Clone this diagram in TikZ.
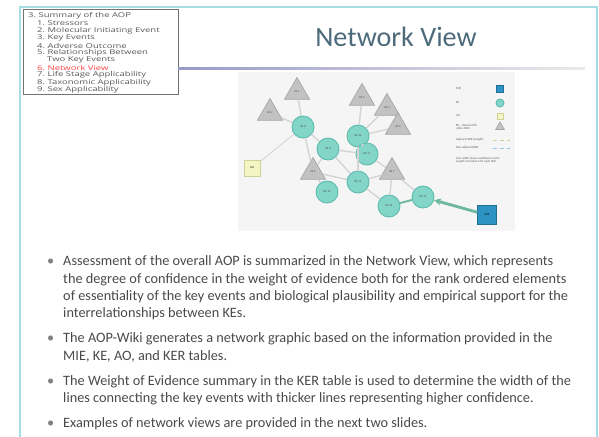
\documentclass[tikz,border=0pt]{standalone}
\usepackage{fontspec}
\setmainfont{Carlito}
\newfontfamily\tocfont[FakeStretch=1.42]{Open Sans}
\usetikzlibrary{shapes.geometric,arrows.meta}

\definecolor{frameblue}{HTML}{A6DCE4}
\definecolor{titleslate}{HTML}{4D6A7A}
\definecolor{bodygray}{HTML}{4A4A4A}
\definecolor{kefill}{HTML}{82D5C7}
\definecolor{keedge}{HTML}{5FBDAE}
\definecolor{trifill}{HTML}{C2C2C2}
\definecolor{triedge}{HTML}{A6A6A6}
\definecolor{aofill}{HTML}{F3F5C4}
\definecolor{aoedge}{HTML}{CFD294}
\definecolor{miefill}{HTML}{2C93C3}
\definecolor{mieedge}{HTML}{1F6E98}
\definecolor{kerline}{HTML}{D4D4D4}
\definecolor{kergreen}{HTML}{6DB79E}

\tikzset{
  ke/.style={circle,draw=keedge,fill=kefill,line width=0.8pt,minimum size=0.66cm,inner sep=0pt,font=\fontsize{2.5}{3}\selectfont,text=black!70},
  ketri/.style={regular polygon,regular polygon sides=3,draw=triedge,fill=trifill,line width=0.6pt,minimum size=0.87cm,inner sep=0pt,font=\fontsize{2.5}{3}\selectfont,text=black!70},
  ker/.style={kerline,line width=1.2pt},
  kerwide/.style={kergreen,line width=2.4pt,-{Stealth[length=6pt,width=6pt]}},
  toc/.style={anchor=west,inner sep=0pt,font=\tocfont\fontsize{5.7}{7}\selectfont,text=black!65},
  para/.style={anchor=west,inner sep=0pt,font=\fontsize{12.2}{14}\selectfont,text=bodygray},
  legtxt/.style={anchor=west,font=\fontsize{2.6}{3}\selectfont,text=black!65}
}

\begin{document}
\begin{tikzpicture}[x=0.03cm,y=-0.03cm]
\useasboundingbox (0,0) rectangle (599,436);
\fill[white] (0,0) rectangle (599,436);
% slide frame
\draw[frameblue,line width=1.6pt] (20,440) -- (20,7) -- (597,7) -- (597,440);

% outline box
\draw[black!55,line width=0.5pt] (23,9) rectangle (178,94);
\node[toc] (toc0) at (28,16) {3.\ Summary of the AOP};
\node[toc] (toc1) at (37,23.4) {1.\ Stressors};
\node[toc] (toc2) at (37,30.8) {2.\ Molecular Initiating Event};
\node[toc] (toc3) at (37,38.2) {3.\ Key Events};
\node[toc] (toc4) at (37,45.6) {4.\ Adverse Outcome};
\node[toc] (toc5) at (37,53) {5.\ Relationships Between};
\node[toc] (toc5b) at (47,60.4) {Two Key Events};
\node[toc,text=red!75] (toc6) at (37,67.8) {6.\ Network View};
\node[toc] (toc7) at (37,75.2) {7.\ Life Stage Applicability};
\node[toc] (toc8) at (37,82.6) {8.\ Taxonomic Applicability};
\node[toc] (toc9) at (37,90) {9.\ Sex Applicability};

% title and rule
\node[font=\fontsize{24}{28}\selectfont,text=titleslate] (title) at (396,37) {Network View};
\shade[left color=black!55!blue!40,right color=black!8] (178,67) rectangle (585,69.5);

% network panel
\fill[black!4] (238,72) rectangle (515,231);

\node[ketri] (tri1) at (297,92) {KE 1};
\node[ketri] (tri2) at (270,113) {KE 2};
\node[ketri] (tri3) at (362,98) {KE 3};
\node[ketri] (tri4) at (387,108) {KE 4};
\node[ketri] (tri5) at (398,127) {KE 5};
\node[ketri] (tri6) at (313,172) {KE 6};
\node[ketri] (tri7) at (392,172) {KE 7};
\node[ke] (ke1) at (303,127) {KE 8};
\node[ke] (ke2) at (328,149) {KE 9};
\node[ke] (ke3) at (358,136) {KE 10};
\node[ke] (ke4) at (367,154) {KE 11};
\node[ke] (ke5) at (358,182) {KE 12};
\node[ke] (ke6) at (327,192) {KE 13};
\node[ke] (ke7) at (389,206) {KE 14};
\node[ke] (ke8) at (423,197) {KE 15};
\node[draw=aoedge,fill=aofill,line width=0.8pt,minimum size=0.48cm,inner sep=0pt,font=\fontsize{2.5}{3}\selectfont] (ao) at (252,168) {AO};
\node[draw=mieedge,fill=miefill,line width=0.8pt,minimum size=0.55cm,inner sep=0pt,font=\fontsize{2.5}{3}\selectfont] (mie) at (487,215) {MIE};

\draw[ker] (tri1) -- (ke1);
\draw[ker] (tri2) -- (ke1);
\draw[ker,line width=0.7pt] (ao) -- (ke1);
\draw[ker] (ke1) -- (ke2);
\draw[ker] (ke1) -- (tri6);
\draw[ker] (ke2) -- (ke4);
\draw[ker] (ke2) -- (ke5);
\draw[ker] (ke2) -- (tri6);
\draw[ker] (tri3) -- (ke3);
\draw[ker] (tri4) -- (ke3);
\draw[ker] (tri5) -- (ke3);
\draw[ker] (ke3) -- (ke4);
\draw[ker] (ke3) -- (ke5);
\draw[ker] (ke4) -- (tri7);
\draw[ker] (tri6) -- (ke6);
\draw[ker] (tri6) -- (ke5);
\draw[ker] (ke5) -- (tri7);
\draw[ker] (ke5) -- (ke7);
\draw[ker] (tri7) -- (ke7);
\draw[ker] (tri7) -- (ke8);
\draw[kergreen,line width=1.6pt] (ke7) -- (ke8);
\draw[kerwide] (mie) -- (ke8);

% legend
\node[legtxt] (leg1) at (452,89) {MIE};
\node[draw=mieedge,fill=miefill,minimum size=0.22cm,inner sep=0pt] (legmie) at (500,89) {};
\node[legtxt] (leg2) at (452,103) {KE};
\node[ke,minimum size=0.24cm] (legke) at (500,103) {};
\node[legtxt] (leg3) at (452,116) {AO};
\node[draw=aoedge,fill=aofill,minimum size=0.18cm,inner sep=0pt] (legao) at (500,116) {};
\node[legtxt,align=left] (leg4) at (452,127) {KE -- shared with\\ other AOPs};
\node[ketri,minimum size=0.3cm] (legtri) at (500,127) {};
\node[legtxt] (leg5) at (452,140) {Adjacent KER (weight)};
\draw[aoedge,line width=0.8pt,dashed] (493,140) -- (510,140);
\node[legtxt] (leg6) at (452,148) {Non-adjacent KER};
\draw[miefill!50,line width=0.8pt,dashed] (493,148) -- (510,148);
\node[legtxt,align=left] (leg7) at (452,160) {Line width shows confidence in the\\ weight of evidence for each KER};

% bullets
\node[para,text=black!50] (b1) at (47,262) {•};
\node[para] (p1a) at (63,262) {Assessment of the overall AOP is summarized in the Network View, which represents};
\node[para] (p1b) at (63,280) {the degree of confidence in the weight of evidence both for the rank ordered elements};
\node[para] (p1c) at (63,297) {of essentiality of the key events and biological plausibility and empirical support for the};
\node[para] (p1d) at (63,314) {interrelationships between KEs.};
\node[para,text=black!50] (b2) at (47,339) {•};
\node[para] (p2a) at (63,339) {The AOP-Wiki generates a network graphic based on the information provided in the};
\node[para] (p2b) at (63,356) {MIE, KE, AO, and KER tables.};
\node[para,text=black!50] (b3) at (47,382) {•};
\node[para] (p3a) at (63,382) {The Weight of Evidence summary in the KER table is used to determine the width of the};
\node[para] (p3b) at (63,399) {lines connecting the key events with thicker lines representing higher confidence.};
\node[para,text=black!50] (b4) at (47,424) {•};
\node[para] (p4a) at (63,424) {Examples of network views are provided in the next two slides.};
\end{tikzpicture}
\end{document}
